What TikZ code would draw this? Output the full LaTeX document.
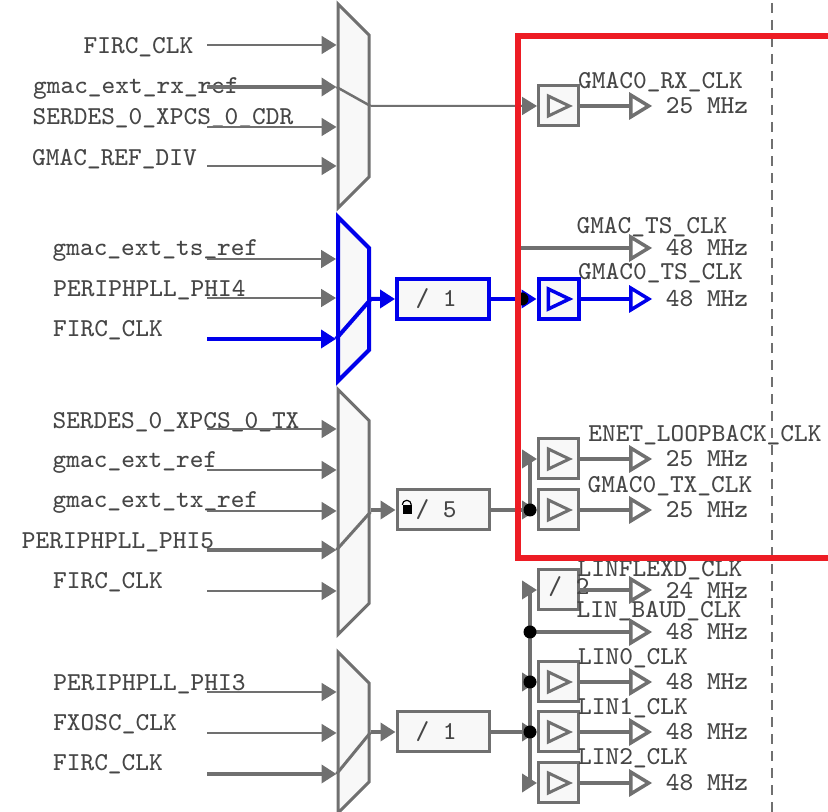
\documentclass[tikz,border=0pt]{standalone}
\usetikzlibrary{arrows.meta,shapes.geometric}
\definecolor{clkgray}{RGB}{112,112,112}
\definecolor{clkfill}{RGB}{248,248,248}
\definecolor{clkblue}{RGB}{0,0,235}
\definecolor{clkred}{RGB}{237,28,36}
\definecolor{clktext}{RGB}{70,70,70}
\newcommand{\muxbody}[1]{\rule{0pt}{#1}\hspace*{.31cm}}
\tikzset{
  ttxt/.style={text=clktext,inner sep=0pt,font=\ttfamily\fontsize{7.35}{8}\selectfont},
  lbl/.style={ttxt,yshift=-.015cm},
  freq/.style={ttxt,inner ysep=0pt,inner xsep=.13cm},
  mux/.style={draw=clkgray,fill=clkfill,line width=.03cm,shape=trapezium,shape border rotate=270,
    trapezium angle=45,inner sep=0pt},
  divbox/.style={ttxt,draw=clkgray,fill=clkfill,line width=.03cm,minimum width=.92cm,minimum height=.4cm},
  bufbox/.style={draw=clkgray,fill=clkfill,line width=.03cm,inner sep=0pt,minimum size=.4cm},
  buftri/.style={draw=clkgray,line width=.03cm,shape=isosceles triangle,isosceles triangle stretches=true,
    inner sep=.2pt,minimum width=.2cm,minimum height=.21cm,xshift=-.04cm},
  dot/.style={circle,fill=black,inner sep=0pt,minimum size=.13cm},
  thinw/.style={draw=clkgray,line width=.018cm},
  boldw/.style={draw=clkgray,line width=.04cm},
  bluew/.style={draw=clkblue,line width=.04cm},
  intip/.style={-{Triangle[length=.15cm,width=.18cm]}},
  outtip/.style={-{Triangle[open,length=.23cm,width=.27cm,line width=.035cm]}},
  sel/.style={draw=clkblue,line width=.04cm}
}
\begin{document}
\begin{tikzpicture}
\useasboundingbox (0,0) rectangle (8.28,-8.12);

\coordinate (dtop) at (7.72,-.03);
\coordinate (dbot) at (7.72,-8.12);
\draw[draw=clkgray,line width=.02cm,dash pattern=on .1cm off .07cm] (dtop) -- (dbot);

% muxes
\node[mux] at (3.535,-1.06) (m1) {\muxbody{1.42cm}};
\node[mux,sel] at (3.535,-2.99) (m2) {\muxbody{1.02cm}};
\node[mux] at (3.535,-5.12) (m3) {\muxbody{1.83cm}};
\node[mux] at (3.535,-7.325) (m4) {\muxbody{.99cm}};

% inputs of m1
\node[lbl] at (1.385,-.46) (a1) {FIRC\_CLK};
\node[lbl] at (1.36,-.87) (a2) {gmac\_ext\_rx\_ref};
\node[lbl] at (1.63,-1.17) (a3) {SERDES\_0\_XPCS\_0\_CDR};
\node[lbl] at (1.145,-1.58) (a4) {GMAC\_REF\_DIV};
\coordinate (w1) at (2.07,-.45);
\coordinate (w2) at (2.07,-.87);
\coordinate (w3) at (2.07,-1.27);
\coordinate (w4) at (2.07,-1.66);
\draw[thinw,intip] (w1) -- (m1.west |- w1);
\draw[boldw,intip] (w2) -- (m1.west |- w2);
\draw[thinw,intip] (w3) -- (m1.west |- w3);
\draw[thinw,intip] (w4) -- (m1.west |- w4);
\draw[draw=clkgray,line width=.025cm] (m1.west |- w2) -- (m1.east);

% inputs of m2
\node[lbl] at (1.555,-2.49) (b1) {gmac\_ext\_ts\_ref};
\node[lbl] at (1.495,-2.89) (b2) {PERIPHPLL\_PHI4};
\node[lbl] at (1.08,-3.29) (b3) {FIRC\_CLK};
\coordinate (x1) at (2.07,-2.59);
\coordinate (x2) at (2.07,-2.98);
\coordinate (x3) at (2.07,-3.39);
\draw[thinw,intip] (x1) -- (m2.west |- x1);
\draw[thinw,intip] (x2) -- (m2.west |- x2);
\draw[bluew,intip] (x3) -- (m2.west |- x3);
\draw[bluew] (m2.west |- x3) -- (m2.east);

% inputs of m3
\node[lbl] at (1.76,-4.21) (c1) {SERDES\_0\_XPCS\_0\_TX};
\node[lbl] at (1.35,-4.61) (c2) {gmac\_ext\_ref};
\node[lbl] at (1.555,-5.01) (c3) {gmac\_ext\_tx\_ref};
\node[lbl] at (1.18,-5.41) (c4) {PERIPHPLL\_PHI5};
\node[lbl] at (1.08,-5.81) (c5) {FIRC\_CLK};
\coordinate (y1) at (2.07,-4.29);
\coordinate (y2) at (2.07,-4.70);
\coordinate (y3) at (2.07,-5.11);
\coordinate (y4) at (2.07,-5.50);
\coordinate (y5) at (2.07,-5.91);
\draw[thinw,intip] (y1) -- (m3.west |- y1);
\draw[thinw,intip] (y2) -- (m3.west |- y2);
\draw[thinw,intip] (y3) -- (m3.west |- y3);
\draw[boldw,intip] (y4) -- (m3.west |- y4);
\draw[thinw,intip] (y5) -- (m3.west |- y5);
\draw[draw=clkgray,line width=.03cm] (m3.west |- y4) -- (m3.east);

% inputs of m4
\node[lbl] at (1.495,-6.83) (d1) {PERIPHPLL\_PHI3};
\node[lbl] at (1.15,-7.23) (d2) {FXOSC\_CLK};
\node[lbl] at (1.08,-7.63) (d3) {FIRC\_CLK};
\coordinate (z1) at (2.07,-6.92);
\coordinate (z2) at (2.07,-7.33);
\coordinate (z3) at (2.07,-7.74);
\draw[thinw,intip] (z1) -- (m4.west |- z1);
\draw[thinw,intip] (z2) -- (m4.west |- z2);
\draw[boldw,intip] (z3) -- (m4.west |- z3);
\draw[draw=clkgray,line width=.03cm] (m4.west |- z3) -- (m4.east);

% dividers
\node[divbox,sel] at (4.43,-2.99) (div1) {/ 1\ \ };
\node[divbox] at (4.43,-5.10) (div2) {/ 5\ \ };
\node[divbox] at (4.43,-7.32) (div3) {/ 1\ \ };
\node[bufbox] at (5.585,-5.90) (div4) {};
\node[ttxt] at (5.69,-5.87) (div4t) {/ 2};
\node[rectangle,fill=black,inner sep=0pt,minimum width=.09cm,minimum height=.09cm] at (4.075,-5.10) (lock) {};
\draw[draw=black,line width=.012cm] (lock.north west) arc[start angle=180,end angle=0,radius=.045cm];
\draw[bluew,intip] (m2.east) -- (div1.west);
\draw[boldw,intip] (m3.east |- div2) -- (div2.west);
\draw[boldw,intip] (m4.east |- div3) -- (div3.west);

% gates
\node[bufbox] at (5.585,-1.06) (g1) {};
\node[bufbox,sel] at (5.585,-2.99) (g2) {};
\node[bufbox] at (5.585,-4.59) (g3) {};
\node[bufbox] at (5.585,-5.10) (g4) {};
\node[bufbox] at (5.585,-6.82) (g5) {};
\node[bufbox] at (5.585,-7.32) (g6) {};
\node[bufbox] at (5.585,-7.83) (g7) {};
\node[buftri] at (g1) (t1) {};
\node[buftri,sel,line width=.035cm] at (g2) (t2) {};
\node[buftri] at (g3) (t3) {};
\node[buftri] at (g4) (t4) {};
\node[buftri] at (g5) (t5) {};
\node[buftri] at (g6) (t6) {};
\node[buftri] at (g7) (t7) {};

% clock names and rates
\node[lbl] at (6.605,-.81) (n1) {GMAC0\_RX\_CLK};
\node[lbl] at (6.52,-2.26) (n2) {GMAC\_TS\_CLK};
\node[lbl] at (6.605,-2.72) (n3) {GMAC0\_TS\_CLK};
\node[lbl] at (7.05,-4.34) (n4) {ENET\_LOOPBACK\_CLK};
\node[lbl] at (6.70,-4.85) (n5) {GMAC0\_TX\_CLK};
\node[lbl] at (6.60,-5.69) (n6) {LINFLEXD\_CLK};
\node[lbl] at (6.59,-6.10) (n7) {LIN\_BAUD\_CLK};
\node[lbl] at (6.33,-6.57) (n8) {LIN0\_CLK};
\node[lbl] at (6.33,-7.07) (n9) {LIN1\_CLK};
\node[lbl] at (6.33,-7.57) (n10) {LIN2\_CLK};
\node[freq] at (7.07,-1.06) (f1) {25 MHz};
\node[freq] at (7.07,-2.48) (f2) {48 MHz};
\node[freq] at (7.07,-2.99) (f3) {48 MHz};
\node[freq] at (7.07,-4.59) (f4) {25 MHz};
\node[freq] at (7.07,-5.10) (f5) {25 MHz};
\node[freq] at (7.07,-5.90) (f6) {24 MHz};
\node[freq] at (7.07,-6.32) (f7) {48 MHz};
\node[freq] at (7.07,-6.82) (f8) {48 MHz};
\node[freq] at (7.07,-7.32) (f9) {48 MHz};
\node[freq] at (7.07,-7.83) (f10) {48 MHz};

% junctions
\coordinate (j1) at (5.22,-2.99);
\coordinate (j1a) at (5.185,-2.99);
\coordinate (j2) at (5.30,-5.10);
\coordinate (j3) at (5.30,-6.32);
\coordinate (j4) at (5.30,-6.82);
\coordinate (j5) at (5.30,-7.32);

% clock tree
\draw[thinw,intip,draw=clkgray,line width=.02cm] (m1.east) -- (g1.west);
\draw[boldw,outtip] (g1.east) -- (f1.west);
\draw[boldw,outtip] (j1a) |- (f2.west);
\draw[bluew,intip] (div1.east) -- (g2.west);
\draw[bluew,line width=.035cm,outtip] (g2.east) -- (f3.west);
\draw[boldw] (div2.east) -- (j2);
\draw[boldw,intip] (j2) -- (g4.west);
\draw[boldw] (j2) -- (j2 |- g3.west);
\draw[boldw,intip] (j2 |- g3.west) -- (g3.west);
\draw[boldw,outtip] (g3.east) -- (f4.west);
\draw[boldw,outtip] (g4.east) -- (f5.west);
\draw[boldw] (div3.east) -- (j5);
\draw[boldw,intip] (j5) -- (g6.west);
\draw[boldw] (j3 |- div4.west) -- (j3 |- g7.west);
\draw[boldw,intip] (j3 |- div4.west) -- (div4.west);
\draw[boldw,intip] (j3 |- g7.west) -- (g7.west);
\draw[boldw,intip] (j4) -- (g5.west);
\draw[boldw,outtip] (j3) -- (f7.west);
\draw[boldw,outtip] (div4.east) -- (f6.west);
\draw[boldw,outtip] (g5.east) -- (f8.west);
\draw[boldw,outtip] (g6.east) -- (f9.west);
\draw[boldw,outtip] (g7.east) -- (f10.west);

\node[dot] at (j1) (dot1) {};
\node[dot] at (j2) (dot2) {};
\node[dot] at (j3) (dot3) {};
\node[dot] at (j4) (dot4) {};
\node[dot] at (j5) (dot5) {};

% red frame
\node[draw=clkred,line width=.06cm,inner sep=0pt,minimum width=3.815cm,minimum height=5.22cm] at (7.09,-2.97) (frame) {};
\end{tikzpicture}
\end{document}
